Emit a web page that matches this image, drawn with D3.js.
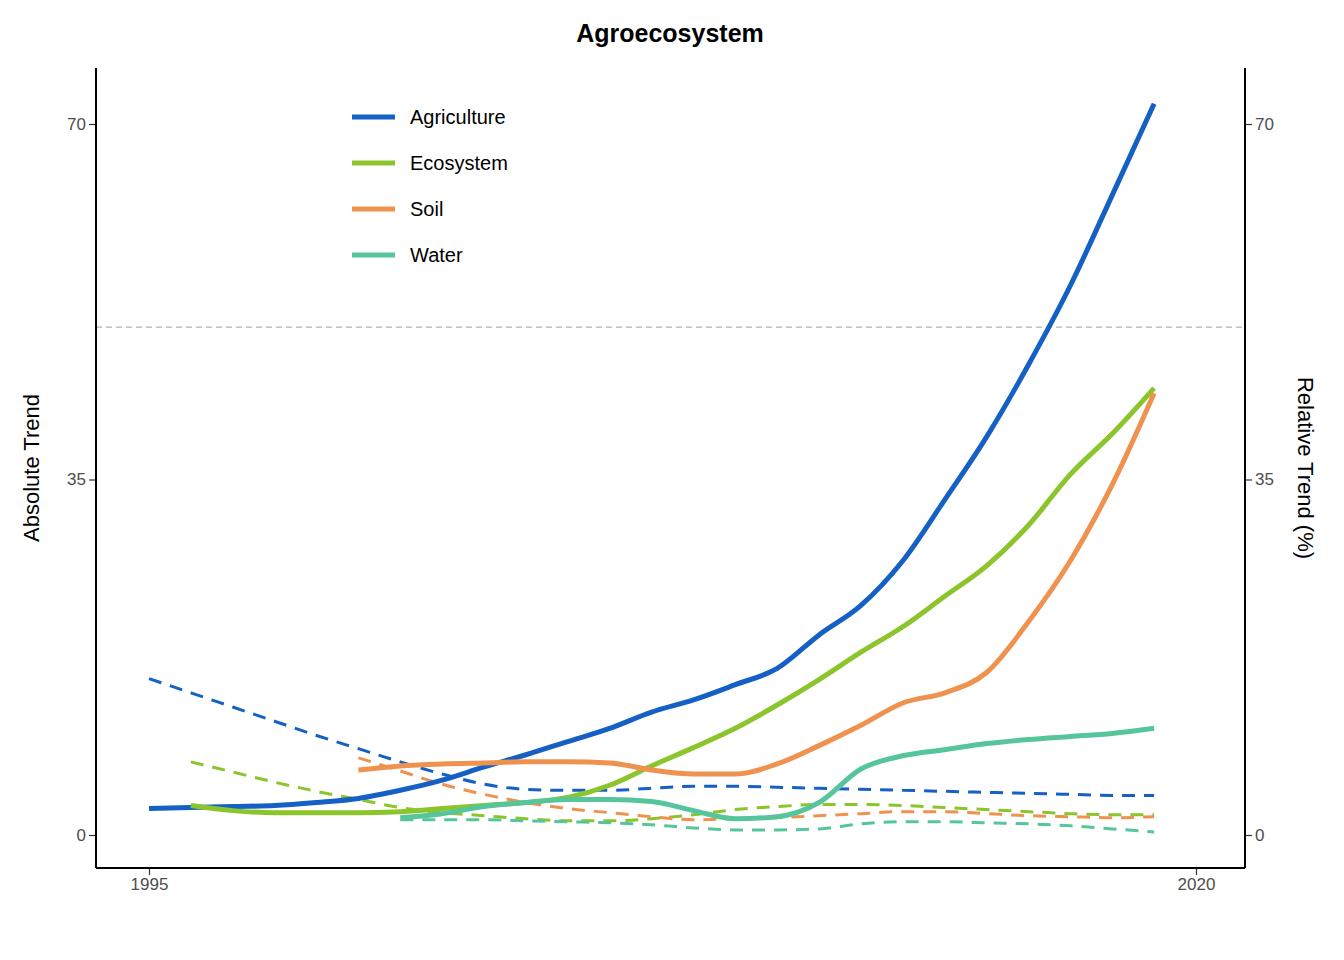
<!DOCTYPE html>
<html><head><meta charset="utf-8">
<script src="https://cdn.jsdelivr.net/npm/d3@7"></script>
<style>body{margin:0;background:#fff;font-family:"Liberation Sans",Arial,sans-serif}</style>
</head><body><div class="chart"></div>
<script>
const years = d3.range(1995, 2020);
const agriAbs = [2.6,2.7,2.8,2.9,3.2,3.6,4.4,5.4,6.7,7.9,9.2,10.5,12.1,13.3,14.8,16.4,19.7,22.6,27,33,39.2,46.3,54.1,63,72];
const agriRel = [15.4,14.0,12.6,11.2,9.8,8.5,7.2,6.0,5.0,4.5,4.4,4.4,4.6,4.8,4.8,4.7,4.6,4.5,4.4,4.3,4.2,4.1,4.0,3.9,3.9];
const ecoAbs = [null,2.9,2.4,2.2,2.2,2.2,2.3,2.6,2.9,3.2,3.7,4.9,6.8,8.6,10.5,12.8,15.3,18.0,20.5,23.5,26.5,30.5,35.5,39.5,44];
const ecoRel = [null,7.2,6.2,5.2,4.3,3.5,2.7,2.2,1.9,1.6,1.4,1.4,1.6,2.0,2.5,2.8,3.0,3.0,2.9,2.7,2.5,2.3,2.1,2.0,2.0];
const soilAbs = [null,null,null,null,null,6.4,6.8,7.0,7.1,7.2,7.2,7.1,6.4,6.0,6.0,7.0,8.8,10.8,13.0,14.0,16.0,21.0,27.0,34.5,43.5];
const soilRel = [null,null,null,null,null,7.6,6.3,5.0,4.0,3.2,2.6,2.2,1.8,1.5,1.6,1.7,1.9,2.1,2.3,2.3,2.1,1.9,1.8,1.7,1.8];
const waterAbs = [null,null,null,null,null,null,1.7,2.1,2.8,3.2,3.5,3.5,3.3,2.4,1.6,1.8,3.2,6.5,7.8,8.4,9.0,9.4,9.7,10.0,10.5];
const waterRel = [null,null,null,null,null,null,1.5,1.5,1.5,1.4,1.3,1.2,1.0,0.7,0.5,0.5,0.6,1.1,1.3,1.3,1.2,1.1,0.9,0.6,0.3];

const series = [
  {name:"Agriculture", color:"#1560c4", abs:agriAbs, rel:agriRel},
  {name:"Ecosystem", color:"#8cc42c", abs:ecoAbs, rel:ecoRel},
  {name:"Soil", color:"#f0924f", abs:soilAbs, rel:soilRel},
  {name:"Water", color:"#56c59b", abs:waterAbs, rel:waterRel}
];

const W = 1344, H = 960;
const svg = d3.select(".chart").append("svg").attr("width", W).attr("height", H);
const x = d3.scaleLinear().domain([1995, 2020]).range([149, 1196]);
const y = d3.scaleLinear().domain([0, 70]).range([835, 124]);
const pL = 96, pR = 1245, pT = 68, pB = 868;

svg.append("line").attr("x1", pL).attr("x2", pR).attr("y1", y(50)).attr("y2", y(50))
  .attr("stroke", "#b3b3b3").attr("stroke-dasharray", "6,4").attr("stroke-width", 1.2);

const line = d3.line().defined(d => d[1] != null).x(d => x(d[0])).y(d => y(d[1])).curve(d3.curveMonotoneX);
series.forEach(s => {
  svg.append("path").datum(years.map((yr, i) => [yr, s.rel[i]]))
    .attr("d", line).attr("fill", "none").attr("stroke", s.color)
    .attr("stroke-width", 3).attr("stroke-dasharray", "13,9");
});
series.forEach(s => {
  svg.append("path").datum(years.map((yr, i) => [yr, s.abs[i]]))
    .attr("d", line).attr("fill", "none").attr("stroke", s.color)
    .attr("stroke-width", 5);
});

const axL = svg.append("g").attr("transform", `translate(${pL},0)`).call(d3.axisLeft(y).tickValues([0,35,70]).tickSize(7));
const axR = svg.append("g").attr("transform", `translate(${pR},0)`).call(d3.axisRight(y).tickValues([0,35,70]).tickSize(7));
const axB = svg.append("g").attr("transform", `translate(0,${pB})`).call(d3.axisBottom(x).tickValues([1995,2020]).tickFormat(d3.format("d")).tickSize(7));
[axL, axR, axB].forEach(a => {
  a.select(".domain").remove();
  a.selectAll("line").attr("stroke", "#333").attr("stroke-width", 1.2);
  a.selectAll("text").attr("font-size", 17).attr("fill", "#4d4d4d").attr("font-family", "Liberation Sans, Arial");
});
svg.append("line").attr("x1", pL).attr("x2", pL).attr("y1", pT).attr("y2", pB).attr("stroke", "#000").attr("stroke-width", 2);
svg.append("line").attr("x1", pR).attr("x2", pR).attr("y1", pT).attr("y2", pB).attr("stroke", "#000").attr("stroke-width", 2);
svg.append("line").attr("x1", pL).attr("x2", pR).attr("y1", pB).attr("y2", pB).attr("stroke", "#000").attr("stroke-width", 2);

svg.append("text").attr("x", 670).attr("y", 42).attr("text-anchor", "middle")
  .attr("font-size", 25).attr("font-weight", "bold").text("Agroecosystem");
svg.append("text").attr("transform", "translate(39,468) rotate(-90)").attr("text-anchor", "middle")
  .attr("font-size", 22).text("Absolute Trend");
svg.append("text").attr("transform", "translate(1298,468) rotate(90)").attr("text-anchor", "middle")
  .attr("font-size", 22).text("Relative Trend (%)");

const lg = svg.append("g");
series.forEach((s, i) => {
  const yy = 117 + i * 46;
  lg.append("line").attr("x1", 352).attr("x2", 395).attr("y1", yy).attr("y2", yy)
    .attr("stroke", s.color).attr("stroke-width", 5);
  lg.append("text").attr("x", 410).attr("y", yy + 7).attr("font-size", 20).text(s.name);
});
</script></body></html>
